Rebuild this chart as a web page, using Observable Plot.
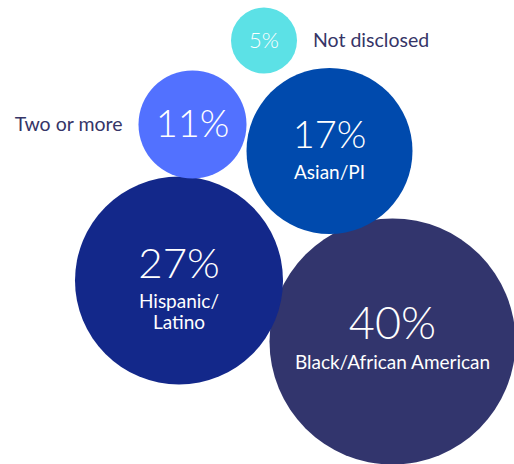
<!DOCTYPE html>
<html><head><meta charset="utf-8">
<script src="https://cdn.jsdelivr.net/npm/d3@7"></script>
<script src="https://cdn.jsdelivr.net/npm/@observablehq/plot@0.6"></script>
<style>
body{margin:0;background:#fff}
#chart svg{display:block}
</style>
</head><body><div id="chart"></div>
<script>
// Data
const categories = ["Not disclosed", "Two or more", "Asian/PI", "Hispanic/\nLatino", "Black/African American"];
const values = [5, 11, 17, 27, 40];
// Bubble layout (packed-bubble centres, in chart units)
const bubbleX = [263.5, 192, 329, 178.5, 392];
const bubbleY = [40, 124, 150.5, 280, 341];

// Styles
const palette = ["#5ce1e6", "#5271ff", "#004aad", "#13288a", "#32356d"];
const radii = [33, 54, 83, 104, 123];
const pctSize = {5: 22, 11: 38, 17: 38, 27: 42, 40: 45};
const font = "Lato, 'Open Sans', sans-serif";
const outerColor = "#363567";

const data = categories.map((c, i) => ({category: c, value: values[i], x: bubbleX[i], y: bubbleY[i]}));
const rOpts = {type: "linear", domain: values, range: radii};
const rScale = Plot.scale({r: rOpts});
const gap = 16;

const W = 514, H = 464;
const plot = Plot.plot({
  width: W, height: H,
  margin: 0,
  style: {fontFamily: font, background: "#fff"},
  x: {domain: [0, W], range: [0, W], axis: null},
  y: {domain: [0, H], range: [0, H], axis: null},
  r: rOpts,
  color: {domain: categories, range: palette},
  marks: [
    Plot.dot(data, {x: "x", y: "y", r: "value", fill: "category", stroke: null}),
    // percentages in small bubbles (centred)
    Plot.text(data.filter(d => d.value <= 15), {
      x: "x", y: "y", text: d => d.value + "%",
      fontSize: d => pctSize[d.value], lineAnchor: "middle", fill: "white", fontWeight: 300
    }),
    // percentages in large bubbles
    Plot.text(data.filter(d => d.value > 15), {
      x: "x", y: "y", text: d => d.value + "%", dy: -3,
      fontSize: d => pctSize[d.value], lineAnchor: "bottom", fill: "white", fontWeight: 300
    }),
    // category labels inside large bubbles
    Plot.text(data.filter(d => d.value > 15), {
      x: "x", y: "y", text: "category", dy: 13,
      fontSize: 19, lineAnchor: "top", lineHeight: 1.1, fill: "white", fontWeight: 400
    }),
    // outer labels: right side
    Plot.text(data.filter(d => d.category === "Not disclosed"), {
      x: d => d.x + rScale.apply(d.value) + gap, y: "y", text: "category",
      textAnchor: "start", lineAnchor: "middle", fontSize: 19.5, fill: outerColor, fontWeight: 400
    }),
    // outer labels: left side
    Plot.text(data.filter(d => d.category === "Two or more"), {
      x: d => d.x - rScale.apply(d.value) - gap, y: "y", text: "category",
      textAnchor: "end", lineAnchor: "middle", fontSize: 19.5, fill: outerColor, fontWeight: 400
    })
  ]
});
document.getElementById("chart").append(plot);
</script>
</body></html>
